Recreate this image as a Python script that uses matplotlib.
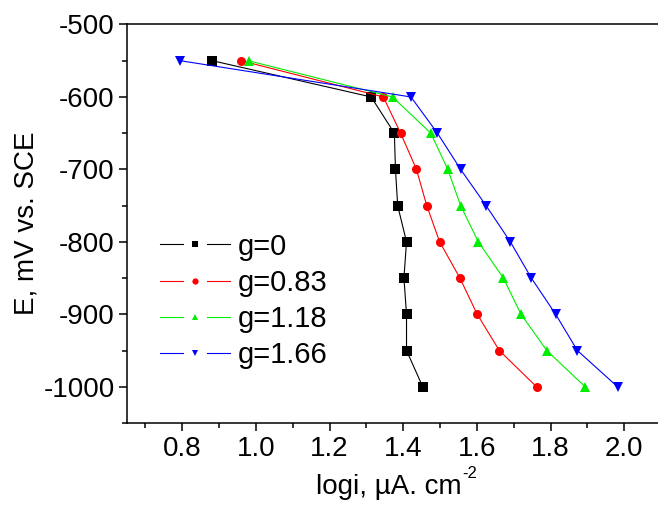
import matplotlib
matplotlib.use("Agg")
import matplotlib.pyplot as plt
from matplotlib.lines import Line2D
from matplotlib.legend_handler import HandlerBase
from matplotlib.ticker import MultipleLocator

plt.rcParams['font.family'] = ['Liberation Sans', 'DejaVu Sans']

E = [-550, -600, -650, -700, -750, -800, -850, -900, -950, -1000]
g0 = [0.882, 1.313, 1.376, 1.379, 1.385, 1.409, 1.402, 1.409, 1.409, 1.453]
g083 = [0.960, 1.346, 1.393, 1.436, 1.464, 1.499, 1.554, 1.601, 1.661, 1.762]
g118 = [0.980, 1.371, 1.475, 1.521, 1.556, 1.604, 1.672, 1.720, 1.790, 1.894]
g166 = [0.795, 1.421, 1.493, 1.556, 1.625, 1.691, 1.748, 1.814, 1.873, 1.982]
labels = ['g=0', 'g=0.83', 'g=1.18', 'g=1.66']
xticks = [0.8, 1.0, 1.2, 1.4, 1.6, 1.8, 2.0]
yticks = [-500, -600, -700, -800, -900, -1000]

series = [g0, g083, g118, g166]
colors = ['#000000', '#ff0000', '#00ee00', '#0000ff']
markers = ['s', 'o', '^', 'v']

fig = plt.figure(figsize=(6.58, 5.08), dpi=100)
ax = fig.add_axes([127/658, 1-423/508, 534/658, (423-24.5)/508])

for xs, c, m, lab in zip(series, colors, markers, labels):
    ax.plot(xs, E, color=c, lw=0.8, marker=m, markersize=6.5,
            markeredgewidth=0, label=lab)

ax.set_xlim(0.65, 2.1)
ax.set_ylim(-1050, -500)
ax.set_xticks(xticks)
ax.set_xticklabels([f'{v:.1f}' for v in xticks])
ax.set_yticks(yticks)
ax.set_yticklabels([str(v) for v in yticks])
ax.xaxis.set_minor_locator(MultipleLocator(0.1))
ax.yaxis.set_minor_locator(MultipleLocator(50))
ax.tick_params(which='major', direction='out', length=6, width=1.1,
               labelsize=20, pad=3)
ax.tick_params(which='minor', direction='out', length=3.5, width=1.1)
ax.spines['right'].set_visible(False)
for s in ['left', 'bottom', 'top']:
    ax.spines[s].set_linewidth(1.1)

ax.set_ylabel('E, mV vs. SCE', fontsize=20, labelpad=3)

# x label with a hyphen superscript
xl = fig.text(0.0, 1 - 487/508, 'logi, \u00b5A. cm', fontsize=20,
              ha='left', va='center')
fig.canvas.draw()
r = fig.canvas.get_renderer()
bb = xl.get_window_extent(r)
sup_w = 11
total = bb.width + sup_w
x_start = 394 - total / 2
xl.set_x(x_start / 658)
fig.text((x_start + bb.width + 1) / 658, 1 - 474/508, '-2', fontsize=12,
         ha='left', va='center')


class GapHandler(HandlerBase):
    def create_artists(self, legend, orig, xdescent, ydescent, width, height,
                       fontsize, trans):
        y = height / 2 - ydescent
        x0 = -xdescent
        c = orig.get_color()
        l1 = Line2D([x0, x0 + width * 0.33], [y, y], color=c, lw=0.8)
        l2 = Line2D([x0 + width * 0.67, x0 + width], [y, y], color=c, lw=0.8)
        mk = Line2D([x0 + width * 0.5], [y], color=c, marker=orig.get_marker(),
                    markersize=4.5, markeredgewidth=0, ls='none')
        for a in (l1, l2, mk):
            a.set_transform(trans)
        return [l1, l2, mk]


handles, labs = ax.get_legend_handles_labels()
leg = ax.legend(handles, labs, handler_map={Line2D: GapHandler()},
                frameon=False, fontsize=21, handlelength=2.4,
                handletextpad=0.28, labelspacing=0.28,
                loc='upper left', bbox_to_anchor=(148/658, 1-221/508),
                bbox_transform=fig.transFigure, borderaxespad=0)

fig.savefig('out.png', dpi=100)
